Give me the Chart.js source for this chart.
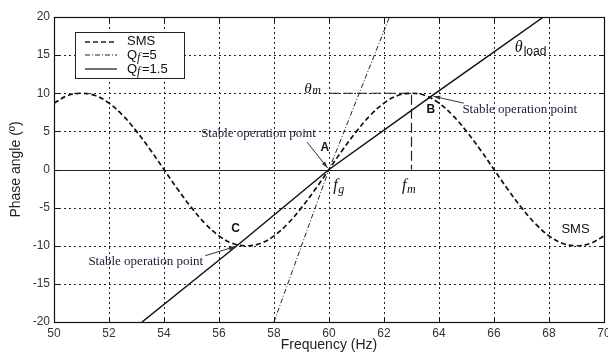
<!DOCTYPE html>
<html>
<head>
<meta charset="utf-8">
<script src="https://cdn.jsdelivr.net/npm/chart.js@4.4.1/dist/chart.umd.min.js"></script>
<style>
  html, body { margin: 0; padding: 0; background: #fff; }
</style>
</head>
<body>
<canvas id="phaseChart" width="608" height="356"></canvas>
<script>
// SMS phase curve, read every 0.5 Hz
const smsFreq = [50, 50.5, 51, 51.5, 52, 52.5, 53, 53.5, 54, 54.5, 55, 55.5, 56, 56.5, 57, 57.5, 58, 58.5, 59, 59.5,
                 60, 60.5, 61, 61.5, 62, 62.5, 63, 63.5, 64, 64.5, 65, 65.5, 66, 66.5, 67, 67.5, 68, 68.5, 69, 69.5, 70];
const smsPhase = [8.7, 9.7, 10, 9.7, 8.7, 7.1, 5, 2.6, 0, -2.6, -5, -7.1, -8.7, -9.7, -10, -9.7, -8.7, -7.1, -5, -2.6,
                  0, 2.6, 5, 7.1, 8.7, 9.7, 10, 9.7, 8.7, 7.1, 5, 2.6, 0, -2.6, -5, -7.1, -8.7, -9.7, -10, -9.7, -8.7];

// load phase lines
const qf5Freq = [58, 60, 62.2];
const qf5Phase = [-20, 0, 20];
const qf15Freq = [53.2, 56.65, 60, 63.75, 67.8];
const qf15Phase = [-20, -10, 0, 9.7, 20];

// theta_m / f_m guide
const guideFreq = [60, 63, 63];
const guidePhase = [10, 10, 0];

const xTickValues = [50, 52, 54, 56, 58, 60, 62, 64, 66, 68, 70];
const yTickValues = [-20, -15, -10, -5, 0, 5, 10, 15, 20];

const toPoints = (xs, ys) => xs.map((x, i) => ({ x: x, y: ys[i] }));

const frame = {
    id: 'frame',
    beforeDatasetsDraw(chart) {
        const { ctx, chartArea: a, scales: { x, y } } = chart;
        ctx.save();
        ctx.strokeStyle = '#222';
        ctx.lineWidth = 1;
        ctx.setLineDash([2, 3]);
        xTickValues.slice(1, -1).forEach(v => {
            const px = Math.round(x.getPixelForValue(v)) + 0.5;
            ctx.beginPath(); ctx.moveTo(px, a.top); ctx.lineTo(px, a.bottom); ctx.stroke();
        });
        yTickValues.slice(1, -1).forEach(v => {
            if (v === 0) return;
            const py = Math.round(y.getPixelForValue(v)) + 0.5;
            ctx.beginPath(); ctx.moveTo(a.left, py); ctx.lineTo(a.right, py); ctx.stroke();
        });
        ctx.setLineDash([]);
        // zero line
        const py0 = Math.round(y.getPixelForValue(0)) + 0.5;
        ctx.lineWidth = 1.2;
        ctx.beginPath(); ctx.moveTo(a.left, py0); ctx.lineTo(a.right, py0); ctx.stroke();
        ctx.restore();
    },
    afterDraw(chart) {
        const { ctx, chartArea: a, scales: { x, y } } = chart;
        ctx.save();
        ctx.strokeStyle = '#111';
        ctx.lineWidth = 1.2;
        ctx.strokeRect(Math.round(a.left) + 0.5, Math.round(a.top) + 0.5,
                       Math.round(a.right - a.left), Math.round(a.bottom - a.top));
        // inward tick marks
        ctx.lineWidth = 1;
        xTickValues.forEach(v => {
            const px = Math.round(x.getPixelForValue(v)) + 0.5;
            ctx.beginPath(); ctx.moveTo(px, a.bottom); ctx.lineTo(px, a.bottom - 5);
            ctx.moveTo(px, a.top); ctx.lineTo(px, a.top + 5); ctx.stroke();
        });
        yTickValues.forEach(v => {
            const py = Math.round(y.getPixelForValue(v)) + 0.5;
            ctx.beginPath(); ctx.moveTo(a.left, py); ctx.lineTo(a.left + 5, py);
            ctx.moveTo(a.right, py); ctx.lineTo(a.right - 5, py); ctx.stroke();
        });

        // legend box
        const lx = 75, ly = 32, lw = 109, lh = 46;
        ctx.fillStyle = '#fff';
        ctx.fillRect(lx, ly, lw, lh);
        ctx.strokeStyle = '#222';
        ctx.lineWidth = 1;
        ctx.strokeRect(lx + 0.5, ly + 0.5, lw, lh);
        const rows = [
            { dash: [5, 3], w: 1.6, y: 42 },
            { dash: [5, 2, 1, 2], w: 1, y: 55 },
            { dash: [], w: 1.3, y: 69 }
        ];
        rows.forEach(r => {
            ctx.setLineDash(r.dash);
            ctx.lineWidth = r.w;
            ctx.beginPath(); ctx.moveTo(85, r.y); ctx.lineTo(117, r.y); ctx.stroke();
        });
        ctx.setLineDash([]);
        ctx.fillStyle = '#111';
        ctx.textBaseline = 'middle';
        ctx.font = '13px "Liberation Sans", Arial, sans-serif';
        ctx.fillText('SMS', 127, 41);
        const qLabel = (yy, rest) => {
            ctx.font = '13px "Liberation Sans", Arial, sans-serif';
            ctx.fillText('Q', 127, yy);
            ctx.font = 'italic 12px "Liberation Serif", serif';
            ctx.fillText('f', 137, yy + 3);
            ctx.font = '13px "Liberation Sans", Arial, sans-serif';
            ctx.fillText(rest, 142, yy);
        };
        qLabel(55, '=5');
        qLabel(69, '=1.5');
        ctx.restore();
    }
};

const notes = {
    id: 'notes',
    afterDatasetsDraw(chart) {
        const { ctx, scales: { x, y } } = chart;
        const px = v => x.getPixelForValue(v);
        const py = v => y.getPixelForValue(v);
        ctx.save();
        ctx.textBaseline = 'middle';

        const serif = '13px "Liberation Serif", "Times New Roman", serif';
        const arrow = (x0, y0, x1, y1) => {
            const ax = px(x0), ay = py(y0), bx = px(x1), by = py(y1);
            ctx.strokeStyle = '#333';
            ctx.fillStyle = '#333';
            ctx.lineWidth = 1;
            ctx.beginPath(); ctx.moveTo(ax, ay); ctx.lineTo(bx, by); ctx.stroke();
            const ang = Math.atan2(by - ay, bx - ax);
            ctx.beginPath();
            ctx.moveTo(bx, by);
            ctx.lineTo(bx - 7 * Math.cos(ang - 0.3), by - 7 * Math.sin(ang - 0.3));
            ctx.lineTo(bx - 7 * Math.cos(ang + 0.3), by - 7 * Math.sin(ang + 0.3));
            ctx.closePath(); ctx.fill();
        };

        // stable operation point labels
        ctx.fillStyle = '#1a1a3a';
        ctx.font = serif;
        ctx.fillText('Stable operation point', px(64.85), py(7.9));
        ctx.fillText('Stable operation point', px(55.35), py(4.7));
        ctx.fillText('Stable operation point', px(51.25), py(-12.1));
        arrow(64.9, 8.7, 63.8, 9.6);
        arrow(59.2, 3.6, 59.95, 0.2);
        arrow(55.5, -11.3, 56.6, -10.1);

        // point letters
        ctx.fillStyle = '#111';
        ctx.font = 'bold 12px "Liberation Sans", Arial, sans-serif';
        ctx.textAlign = 'center';
        ctx.fillText('A', px(59.85), py(2.9));
        ctx.fillText('B', px(63.7), py(7.8));
        ctx.fillText('C', px(56.6), py(-7.8));

        // f_g and f_m
        const fLabel = (xv, yv, sub) => {
            ctx.textAlign = 'left';
            ctx.font = 'italic 16px "Liberation Serif", serif';
            ctx.fillText('f', px(xv), py(yv));
            ctx.font = 'italic 12px "Liberation Serif", serif';
            ctx.fillText(sub, px(xv) + 5, py(yv) + 4);
        };
        fLabel(60.15, -2.1, 'g');
        fLabel(62.65, -2.1, 'm');

        // theta_m
        ctx.font = 'italic 15px "Liberation Serif", serif';
        ctx.fillText('\u03B8', px(59.1), py(10.6));
        ctx.font = 'italic 12px "Liberation Serif", serif';
        ctx.fillText('m', px(59.1) + 8, py(10.6) + 2);

        // theta_load
        ctx.font = 'italic 16px "Liberation Serif", serif';
        ctx.fillText('\u03B8', px(66.75), py(16.0));
        ctx.font = '12px "Liberation Sans", Arial, sans-serif';
        ctx.fillText('load', px(66.75) + 9, py(16.0) + 4);

        // SMS label
        ctx.font = '13px "Liberation Sans", Arial, sans-serif';
        ctx.fillText('SMS', px(68.45), py(-7.8));
        ctx.restore();
    }
};

new Chart(document.getElementById('phaseChart').getContext('2d'), {
    type: 'line',
    data: {
        datasets: [
            {
                label: 'SMS',
                data: toPoints(smsFreq, smsPhase),
                borderColor: '#111',
                borderWidth: 1.7,
                borderDash: [5, 3],
                pointRadius: 0,
                tension: 0.4
            },
            {
                label: 'Qf=5',
                data: toPoints(qf5Freq, qf5Phase),
                borderColor: '#222',
                borderWidth: 1,
                borderDash: [5, 2, 1, 2],
                pointRadius: 0
            },
            {
                label: 'Qf=1.5',
                data: toPoints(qf15Freq, qf15Phase),
                borderColor: '#111',
                borderWidth: 1.5,
                pointRadius: 0
            },
            {
                label: 'guide',
                data: toPoints(guideFreq, guidePhase),
                borderColor: '#222',
                borderWidth: 1.2,
                borderDash: [10, 4],
                pointRadius: 0
            }
        ]
    },
    options: {
        responsive: false,
        animation: false,
        devicePixelRatio: 1,
        layout: { padding: { left: 8, right: 4, top: 17, bottom: 0 } },
        plugins: {
            legend: { display: false },
            tooltip: { enabled: false }
        },
        scales: {
            x: {
                type: 'linear',
                min: 50,
                max: 70,
                afterBuildTicks: s => { s.ticks = xTickValues.map(v => ({ value: v })); },
                afterFit: s => { s.height = 34; s.paddingLeft = 0; s.paddingRight = 0; },
                grid: { display: false, drawTicks: false, tickLength: 0 },
                border: { display: false },
                ticks: {
                    color: '#333',
                    padding: 4,
                    font: { family: '"Liberation Sans", Arial, sans-serif', size: 12 }
                },
                title: {
                    display: true,
                    text: 'Frequency (Hz)',
                    color: '#222',
                    padding: { top: 0, bottom: 2 },
                    font: { family: '"Liberation Sans", Arial, sans-serif', size: 14 }
                }
            },
            y: {
                min: -20,
                max: 20,
                afterBuildTicks: s => { s.ticks = yTickValues.map(v => ({ value: v })); },
                afterFit: s => { s.width = 46; s.paddingTop = 0; s.paddingBottom = 0; },
                grid: { display: false, drawTicks: false, tickLength: 0 },
                border: { display: false },
                ticks: {
                    color: '#333',
                    padding: 4,
                    font: { family: '"Liberation Sans", Arial, sans-serif', size: 12 }
                },
                title: {
                    display: true,
                    text: 'Phase angle (\u00BA)',
                    color: '#222',
                    padding: { top: 0, bottom: 0 },
                    font: { family: '"Liberation Sans", Arial, sans-serif', size: 14 }
                }
            }
        }
    },
    plugins: [frame, notes]
});
</script>
</body>
</html>
